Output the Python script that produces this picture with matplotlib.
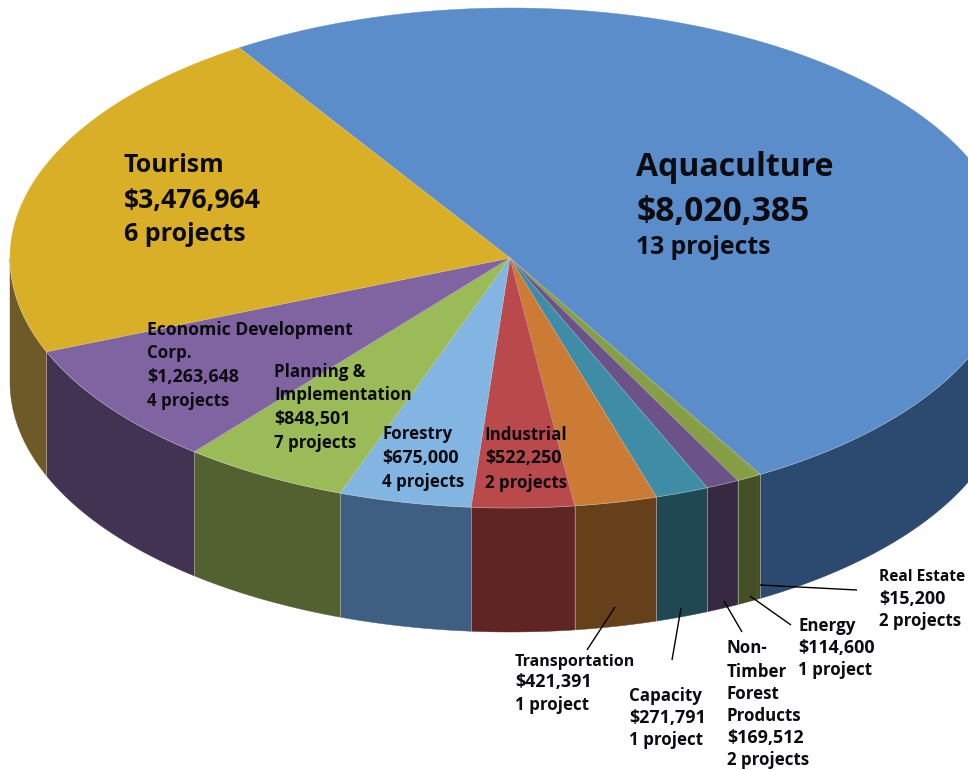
import numpy as np
import matplotlib
matplotlib.use("Agg")
import matplotlib.pyplot as plt
from matplotlib.patches import Polygon

# Funding by sector, in the clockwise order the slices are drawn
sectors = ["Aquaculture", "Real Estate", "Energy", "Non-Timber Forest Products", "Capacity",
           "Transportation", "Industrial", "Forestry", "Planning & Implementation",
           "Economic Development Corp.", "Tourism"]
funding = [8020385, 15200, 114600, 169512, 271791, 421391, 522250, 675000, 848501, 1263648, 3476964]
top_colors = ["#5A8DC9", "#869F46", "#869F46", "#6B5288", "#3F8CA6", "#CC7B35", "#B9494A",
              "#83B5E3", "#9BBB59", "#8064A2", "#D9AF27"]
wall_colors = ["#2C4A70", "#444F25", "#444F25", "#382943", "#204852", "#66401B", "#5E2522",
               "#3F5F82", "#53602F", "#433353", "#6E5A26"]

# Pie geometry in figure pixels
CX, CY, RX, RY, DEPTH = 510.0, 258.0, 500.0, 250.0, 124.0
START_DEG = -32.8
SEAM = (0.85, 0.85, 0.85, 0.55)

plt.rcParams["font.family"] = ["Open Sans", "DejaVu Sans"]

fig = plt.figure(figsize=(9.68, 7.70), dpi=100, facecolor="white")
ax = fig.add_axes([0, 0, 1, 1])
ax.set_xlim(0, 968)
ax.set_ylim(770, 0)
ax.axis("off")


def rim(deg, drop=0.0):
    t = np.radians(deg)
    return CX + RX * np.sin(t), CY - RY * np.cos(t) + drop


spans = np.cumsum([0.0] + funding) / sum(funding) * 360.0 + START_DEG

# Outer wall: only the front half of the rim is visible
for a, b, wall in zip(spans[:-1], spans[1:], wall_colors):
    lo, hi = max(a, 90.0), min(b, 270.0)
    if hi <= lo:
        continue
    deg = np.linspace(lo, hi, 120)
    x, y = rim(deg)
    xb, yb = rim(deg[::-1], DEPTH)
    ax.add_patch(Polygon(np.r_[np.c_[x, y], np.c_[xb, yb]], closed=True, fc=wall, ec=wall, lw=0.3, zorder=1))

# Seams between neighbouring wall panels, skipping the hairline sliver
for d, value in zip(spans[1:-1], funding[1:]):
    if 90.0 < d < 270.0 and value != funding[2]:
        x0, y0 = rim(d)
        x1, y1 = rim(d, DEPTH)
        ax.plot([x0, x1], [y0, y1], color=SEAM, lw=0.6, zorder=2)

# Top face: fill first, then the radial seams and the rim on top of it
for a, b, top in zip(spans[:-1], spans[1:], top_colors):
    deg = np.linspace(a, b, max(3, int(b - a) * 3))
    x, y = rim(deg)
    pts = np.r_[[[CX, CY]], np.c_[x, y]]
    ax.add_patch(Polygon(pts, closed=True, fc=top, ec=top, lw=0.3, zorder=3))
for d, value in zip(spans[:-1], funding):
    if value != funding[2]:
        x0, y0 = rim(d)
        ax.plot([CX, x0], [CY, y0], color=SEAM, lw=0.4, zorder=4)
front = np.linspace(90.0, 270.0, 400)
ax.plot(*rim(front), color=SEAM, lw=0.5, zorder=4)

# Labels: (x, [(baseline y, text, font size), ...])
S = 12.2   # names and project counts
M = 12.9   # dollar amounts
labels = [
    (636, [(176, "Aquaculture", 23), (221, "$8,020,385", 24.2), (254, "13 projects", 17.8)]),
    (124, [(172, "Tourism", 18), (208, "$3,476,964", 19.2), (241, "6 projects", 18)]),
    (147, [(335, "Economic Development", 12.6), (358, "Corp.", S), (382, "$1,263,648", M), (406, "4 projects", S)]),
    (274, [(377, "Planning &", S), (400, "Implementation", S), (424, "$848,501", M), (448, "7 projects", S)]),
    (382, [(439, "Forestry", S), (463, "$675,000", M), (487, "4 projects", S)]),
    (485, [(440, "Industrial", S), (463, "$522,250", M), (488, "2 projects", S)]),
    (515, [(666, "Transportation", 11.5), (687, "$421,391", M), (710, "1 project", S)]),
    (629, [(701, "Capacity", S), (723, "$271,791", M), (745, "1 project", S)]),
    (727, [(653, "Non-", S), (677, "Timber", S), (699, "Forest", S), (721, "Products", S),
           (743, "$169,512", M), (765, "2 projects", S)]),
    (798, [(631, "Energy", S), (653, "$114,600", M), (675, "1 project", S)]),
    (879, [(581, "Real Estate", 11.2), (604, "$15,200", M), (626, "2 projects", S)]),
]
for x, lines in labels:
    for y, text, size in lines:
        ax.text(x, y, text, fontsize=size, fontweight="bold", color="#0B0B10",
                ha="left", va="baseline", zorder=6)

# Leader lines for the narrow front slices
leaders = [((760, 585), (857, 590)), ((750, 596), (791, 625)), ((724, 601), (742, 632)),
           ((681, 608), (672, 660)), ((615, 607), (587, 650))]
for (x0, y0), (x1, y1) in leaders:
    ax.plot([x0, x1], [y0, y1], color="black", lw=1.0, zorder=5, solid_capstyle="butt")

fig.savefig("out.png", dpi=100, facecolor="white")
